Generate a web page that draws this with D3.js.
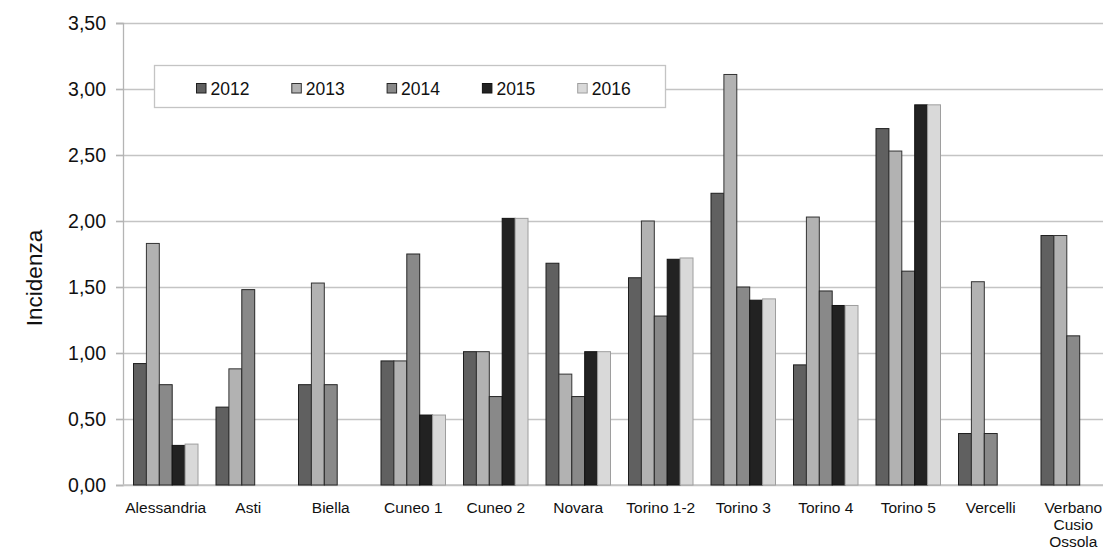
<!DOCTYPE html>
<html lang="it">
<head>
    <meta charset="UTF-8">
    <title>Incidenza</title>
    <script src="https://cdn.jsdelivr.net/npm/d3@7"></script>
    <style>
        html, body {
            margin: 0;
            padding: 0;
            background: #fff;
            overflow: hidden;
        }
        text {
            font-family: "Liberation Sans", Arial, sans-serif;
            fill: #111;
        }
        .grid line {
            stroke: #c4c4c4;
            stroke-width: 1.3px;
        }
        .grid .domain {
            display: none;
        }
    </style>
</head>
<body>
<script>
    let width = 1103;
    let height = 549;

    // dati
    let categories = ['Alessandria', 'Asti', 'Biella', 'Cuneo 1', 'Cuneo 2', 'Novara',
        'Torino 1-2', 'Torino 3', 'Torino 4', 'Torino 5', 'Vercelli', 'Verbano Cusio Ossola'];
    let years = ['2012', '2013', '2014', '2015', '2016'];
    let v2012 = [0.92, 0.59, 0.76, 0.94, 1.01, 1.68, 1.57, 2.21, 0.91, 2.70, 0.39, 1.89];
    let v2013 = [1.83, 0.88, 1.53, 0.94, 1.01, 0.84, 2.00, 3.11, 2.03, 2.53, 1.54, 1.89];
    let v2014 = [0.76, 1.48, 0.76, 1.75, 0.67, 0.67, 1.28, 1.50, 1.47, 1.62, 0.39, 1.13];
    let v2015 = [0.30, null, null, 0.53, 2.02, 1.01, 1.71, 1.40, 1.36, 2.88, null, null];
    let v2016 = [0.31, null, null, 0.53, 2.02, 1.01, 1.72, 1.41, 1.36, 2.88, null, null];
    let yTicks = [0, 0.5, 1, 1.5, 2, 2.5, 3, 3.5];

    let series = [v2012, v2013, v2014, v2015, v2016];
    let fills = ['#606060', '#b2b2b2', '#898989', '#222222', '#d9d9d9'];
    let strokes = ['#1e1e1e', '#333333', '#262626', '#111111', '#9e9e9e'];

    let svg = d3.select('body').append('svg')
        .attr('width', width)
        .attr('height', height);

    let y = d3.scaleLinear().domain([0, 3.5]).range([485, 23]);
    let x0 = d3.scaleBand().domain(categories).range([124.5, 124.5 + 12 * 82.5]);
    let groupW = 64.5;
    let x1 = d3.scaleBand().domain(years).range([0, groupW]);

    let fmt = v => d3.format('.2f')(v).replace('.', ',');

    // griglia
    svg.append('g')
        .classed('grid', true)
        .attr('transform', 'translate(116,0)')
        .call(d3.axisLeft(y).tickValues(yTicks).tickSize(-(width - 116)).tickFormat(''));

    // asse y
    let yAxis = svg.append('g')
        .attr('transform', 'translate(123,0)')
        .call(d3.axisLeft(y).tickValues(yTicks).tickSize(7).tickPadding(10).tickFormat(fmt));
    yAxis.select('.domain').attr('stroke', '#b4b4b4').attr('stroke-width', 1.3);
    yAxis.selectAll('.tick line').attr('stroke', '#b4b4b4').attr('stroke-width', 1.3);
    yAxis.selectAll('.tick text')
        .style('font-size', '19.5px')
        .attr('fill', '#111');

    // asse x
    svg.append('line')
        .attr('x1', 123).attr('x2', width)
        .attr('y1', y(0)).attr('y2', y(0))
        .attr('stroke', '#c4c4c4')
        .attr('stroke-width', 1.5);

    // barre
    series.forEach((vals, s) => {
        svg.append('g')
            .selectAll('rect')
            .data(categories.map((c, i) => ({c: c, v: vals[i]})).filter(d => d.v !== null))
            .enter()
            .append('rect')
            .attr('x', d => x0(d.c) + (x0.bandwidth() - groupW) / 2 + x1(years[s]))
            .attr('y', d => y(d.v))
            .attr('width', x1.bandwidth())
            .attr('height', d => y(0) - y(d.v))
            .attr('fill', fills[s])
            .attr('stroke', strokes[s])
            .attr('stroke-width', 1);
    });

    // etichette categorie
    let catLabels = svg.append('g')
        .selectAll('text')
        .data(categories).enter()
        .append('text')
        .attr('text-anchor', 'middle')
        .style('font-size', '15.5px')
        .attr('transform', d => 'translate(' + (x0(d) + x0.bandwidth() / 2) + ',513)');
    catLabels.each(function (d) {
        let words = d === 'Verbano Cusio Ossola' ? d.split(' ') : [d];
        d3.select(this).selectAll('tspan')
            .data(words).enter()
            .append('tspan')
            .attr('x', 0)
            .attr('dy', (w, i) => i === 0 ? 0 : 17)
            .text(w => w);
    });

    // titolo asse y
    svg.append('text')
        .attr('transform', 'translate(42,278) rotate(-90)')
        .attr('text-anchor', 'middle')
        .style('font-size', '22.5px')
        .text('Incidenza');

    // legenda
    let legend = svg.append('g');
    legend.append('rect')
        .attr('x', 154.5).attr('y', 65.5)
        .attr('width', 511).attr('height', 42)
        .attr('fill', '#fff')
        .attr('stroke', '#c4c4c4')
        .attr('stroke-width', 1.3);
    let item = legend.selectAll('.item')
        .data(years).enter()
        .append('g')
        .attr('transform', (d, i) => 'translate(' + (196 + i * 95.3) + ',0)');
    item.append('rect')
        .attr('x', 0.5).attr('y', 83.5)
        .attr('width', 9.5).attr('height', 9.5)
        .attr('fill', (d, i) => fills[i])
        .attr('stroke', (d, i) => strokes[i])
        .attr('stroke-width', 1);
    item.append('text')
        .attr('x', 14.5).attr('y', 95)
        .style('font-size', '17.5px')
        .text(d => d);
</script>
</body>
</html>
